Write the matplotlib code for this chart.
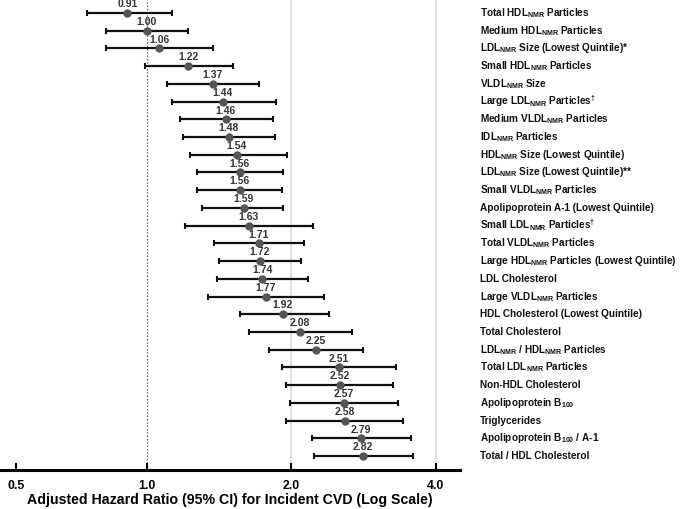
import matplotlib
matplotlib.use('Agg')
import matplotlib.pyplot as plt
import numpy as np

plt.rcParams['font.family'] = ['Liberation Sans', 'DejaVu Sans']
plt.rcParams['font.weight'] = 'bold'
plt.rcParams['mathtext.fontset'] = 'custom'
plt.rcParams['mathtext.rm'] = 'Liberation Sans:bold'
plt.rcParams['mathtext.it'] = 'Liberation Sans:bold'
plt.rcParams['mathtext.bf'] = 'Liberation Sans:bold'

N = r'$_{\mathrm{NMR}}$'
labels = [
    'Total HDL' + N + ' Particles',
    'Medium HDL' + N + ' Particles',
    'LDL' + N + ' Size (Lowest Quintile)*',
    'Small HDL' + N + ' Particles',
    'VLDL' + N + ' Size',
    'Large LDL' + N + ' Particles$^{†}$',
    'Medium VLDL' + N + ' Particles',
    'IDL' + N + ' Particles',
    'HDL' + N + ' Size (Lowest Quintile)',
    'LDL' + N + ' Size (Lowest Quintile)**',
    'Small VLDL' + N + ' Particles',
    'Apolipoprotein A-1 (Lowest Quintile)',
    'Small LDL' + N + ' Particles$^{†}$',
    'Total VLDL' + N + ' Particles',
    'Large HDL' + N + ' Particles (Lowest Quintile)',
    'LDL Cholesterol',
    'Large VLDL' + N + ' Particles',
    'HDL Cholesterol (Lowest Quintile)',
    'Total Cholesterol',
    'LDL' + N + ' / HDL' + N + ' Particles',
    'Total LDL' + N + ' Particles',
    'Non-HDL Cholesterol',
    r'Apolipoprotein B$_{\mathrm{100}}$',
    'Triglycerides',
    r'Apolipoprotein B$_{\mathrm{100}}$ / A-1',
    'Total / HDL Cholesterol',
]
hr = [0.91, 1.00, 1.06, 1.22, 1.37, 1.44, 1.46, 1.48, 1.54, 1.56, 1.56, 1.59, 1.63,
      1.71, 1.72, 1.74, 1.77, 1.92, 2.08, 2.25, 2.51, 2.52, 2.57, 2.58, 2.79, 2.82]
ci_low = [0.75, 0.82, 0.82, 0.99, 1.10, 1.13, 1.17, 1.19, 1.23, 1.27, 1.27, 1.30, 1.20,
          1.38, 1.41, 1.40, 1.34, 1.56, 1.63, 1.80, 1.91, 1.95, 1.99, 1.95, 2.21, 2.23]
ci_high = [1.13, 1.22, 1.37, 1.51, 1.71, 1.86, 1.83, 1.85, 1.96, 1.92, 1.91, 1.92, 2.22,
           2.12, 2.09, 2.17, 2.34, 2.39, 2.68, 2.82, 3.30, 3.26, 3.34, 3.42, 3.55, 3.59]
tick_labels = ['0.5', '1.0', '2.0', '4.0']

hr = np.array(hr)
y = np.arange(1, len(hr) + 1)
err = [hr - np.array(ci_low), np.array(ci_high) - hr]

fig = plt.figure(figsize=(6.81, 5.09), dpi=100)
ax = fig.add_axes([0.0, 0.0766, 0.6755, 0.9234])
ax.set_xscale('log')
ax.set_xlim(0.494, 4.49)
ax.set_ylim(26.79, 0.27)

for v in [2.0, 4.0]:
    ax.axvline(v, color='#e2e2e2', lw=1.5, zorder=0)
ax.axvline(1.0, color='#666666', lw=0.8, ls=(0, (1.5, 1.5)), zorder=0)

ax.errorbar(hr, y, xerr=err, fmt='o', color='#111111', ecolor='#111111',
            elinewidth=1.6, capsize=2.3, capthick=1.5,
            markersize=5, markerfacecolor='#555555', markeredgecolor='#555555', zorder=3)

for xv, yv in zip(hr, y):
    ax.annotate(f'{xv:.2f}', (xv, yv), xytext=(0, 6.3), textcoords='offset points',
                ha='center', va='center', fontsize=7.5, fontweight='bold', color='#333333')

for yv, lab in zip(y, labels):
    ax.text(1.043, yv, lab, transform=ax.get_yaxis_transform(), ha='left', va='center',
            fontsize=7.2, fontweight='bold', color='#111111')

for s in ['top', 'left', 'right']:
    ax.spines[s].set_visible(False)
ax.spines['bottom'].set_linewidth(2.2)
ax.set_yticks([])

ax.xaxis.set_minor_locator(matplotlib.ticker.NullLocator())
ax.set_xticks([0.533, 1.0, 2.0, 4.0])
ax.set_xticklabels(tick_labels, fontsize=8.8, fontweight='bold')
ax.tick_params(axis='x', direction='in', length=5, width=1.5, pad=7)
ax.set_xlabel('Adjusted Hazard Ratio (95% CI) for Incident CVD (Log Scale)',
              fontsize=10.2, fontweight='bold', labelpad=1)

fig.savefig('out.png', dpi=100)
